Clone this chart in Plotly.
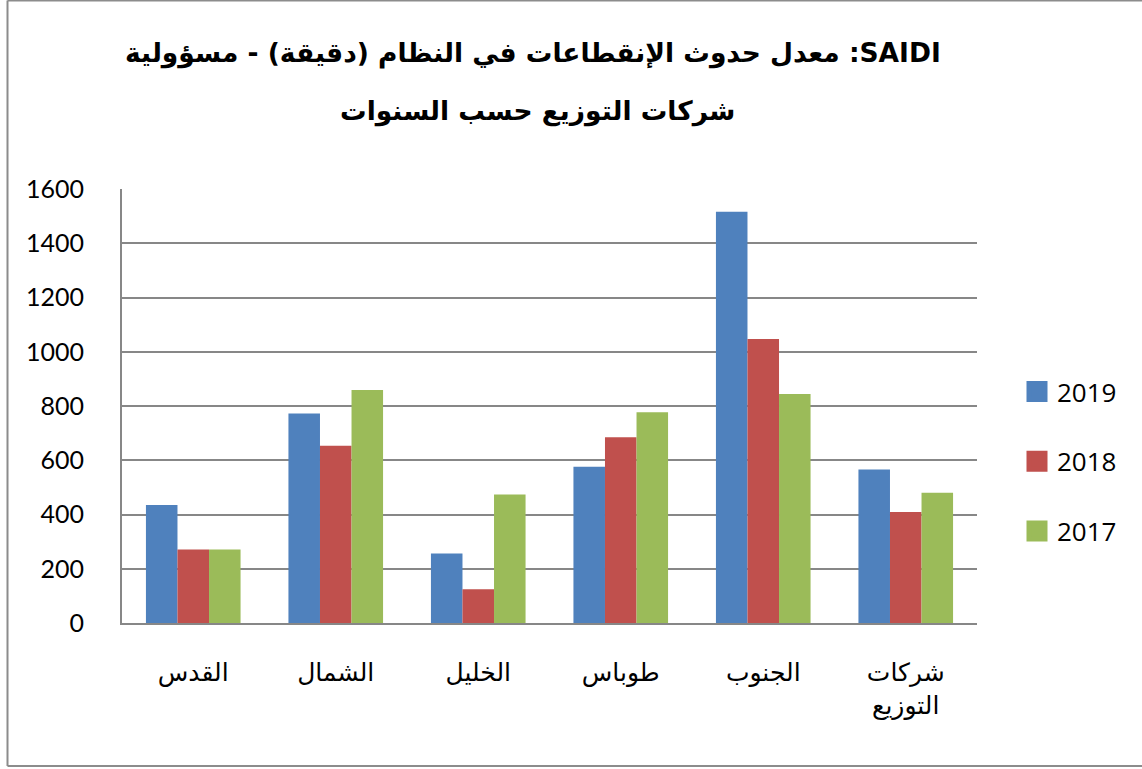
import plotly.graph_objects as go

categories = ["القدس", "الشمال", "الخليل", "طوباس", "الجنوب", "شركات<br>التوزيع"]
years = ["2019", "2018", "2017"]
values_2019 = [435, 772, 256, 576, 1516, 566]
values_2018 = [271, 653, 124, 685, 1047, 409]
values_2017 = [271, 859, 474, 777, 844, 480]
colors = ["#4F81BD", "#C0504D", "#9BBB59"]
y_ticks = [0, 200, 400, 600, 800, 1000, 1200, 1400, 1600]
title_line1 = "SAIDI: معدل حدوث الإنقطاعات في النظام (دقيقة) - مسؤولية"
title_line2 = "شركات التوزيع حسب السنوات"

series = [values_2019, values_2018, values_2017]

fig = go.Figure()
for name, vals, col in zip(years, series, colors):
    fig.add_trace(go.Bar(
        x=categories, y=vals, name=name, showlegend=False,
        marker=dict(color=col, line=dict(width=0)),
    ))
# legend entries with larger square swatches
for i, (name, col) in enumerate(zip(years, colors)):
    fig.add_trace(go.Scatter(
        x=[None], y=[None], mode="markers", name=name, legendgroup=name,
        marker=dict(symbol="square", size=16, color=col,
                    line=dict(color=col, width=5)),
    ))

W, H = 1142, 769
L, R, T, B = 122, 977, 189, 623
pw, ph = R - L, B - T

def px_x(x):
    return (x - L) / pw

def px_y(y):
    return (B - y) / ph

border = dict(color="#8C8C8C", width=2)

fig.update_layout(
    width=W, height=H,
    margin=dict(l=L, r=W - R, t=T, b=H - B, pad=0),
    paper_bgcolor="white", plot_bgcolor="white",
    barmode="group", bargap=0.336, bargroupgap=0,
    font=dict(family="Lato", size=25, color="black"),
    showlegend=True,
    legend=dict(
        x=px_x(1017), y=px_y(368), xanchor="left", yanchor="top",
        font=dict(family="Open Sans", size=26, color="black"),
        tracegroupgap=33, traceorder="grouped", itemsizing="trace",
        bgcolor="rgba(0,0,0,0)",
    ),
    xaxis=dict(
        showline=True, linecolor="#878787", linewidth=2,
        showgrid=False, ticks="", ticklabelstandoff=26,
        tickfont=dict(family="DejaVu Sans", size=25, color="black"),
    ),
    yaxis=dict(
        range=[0, 1600], tickvals=y_ticks,
        showline=True, linecolor="#878787", linewidth=2,
        showgrid=True, gridcolor="#878787", gridwidth=2,
        zeroline=False, ticks="", ticklabelstandoff=31,
        tickfont=dict(family="Lato", size=25, color="black"),
    ),
    annotations=[
        dict(text="\u202b" + title_line1 + "\u202c", x=px_x(533), y=px_y(53),
             xref="paper", yref="paper", showarrow=False, xanchor="center", yanchor="middle",
             font=dict(family="DejaVu Sans", size=26.5, color="black", weight="bold")),
        dict(text="\u202b" + title_line2 + "\u202c", x=px_x(537), y=px_y(111),
             xref="paper", yref="paper", showarrow=False, xanchor="center", yanchor="middle",
             font=dict(family="DejaVu Sans", size=26.5, color="black", weight="bold")),
    ],
    shapes=[
        dict(type="line", xref="paper", yref="paper", layer="below",
             x0=px_x(7.5), x1=px_x(7.5), y0=px_y(766), y1=px_y(0.5), line=border),
        dict(type="line", xref="paper", yref="paper", layer="below",
             x0=px_x(7.5), x1=px_x(1142), y0=px_y(0.5), y1=px_y(0.5), line=border),
        dict(type="line", xref="paper", yref="paper", layer="below",
             x0=px_x(7.5), x1=px_x(1142), y0=px_y(766), y1=px_y(766), line=border),
    ],
)

fig.write_html("out.html", post_script="document.body.style.margin='0';",
               config={"displayModeBar": False})
